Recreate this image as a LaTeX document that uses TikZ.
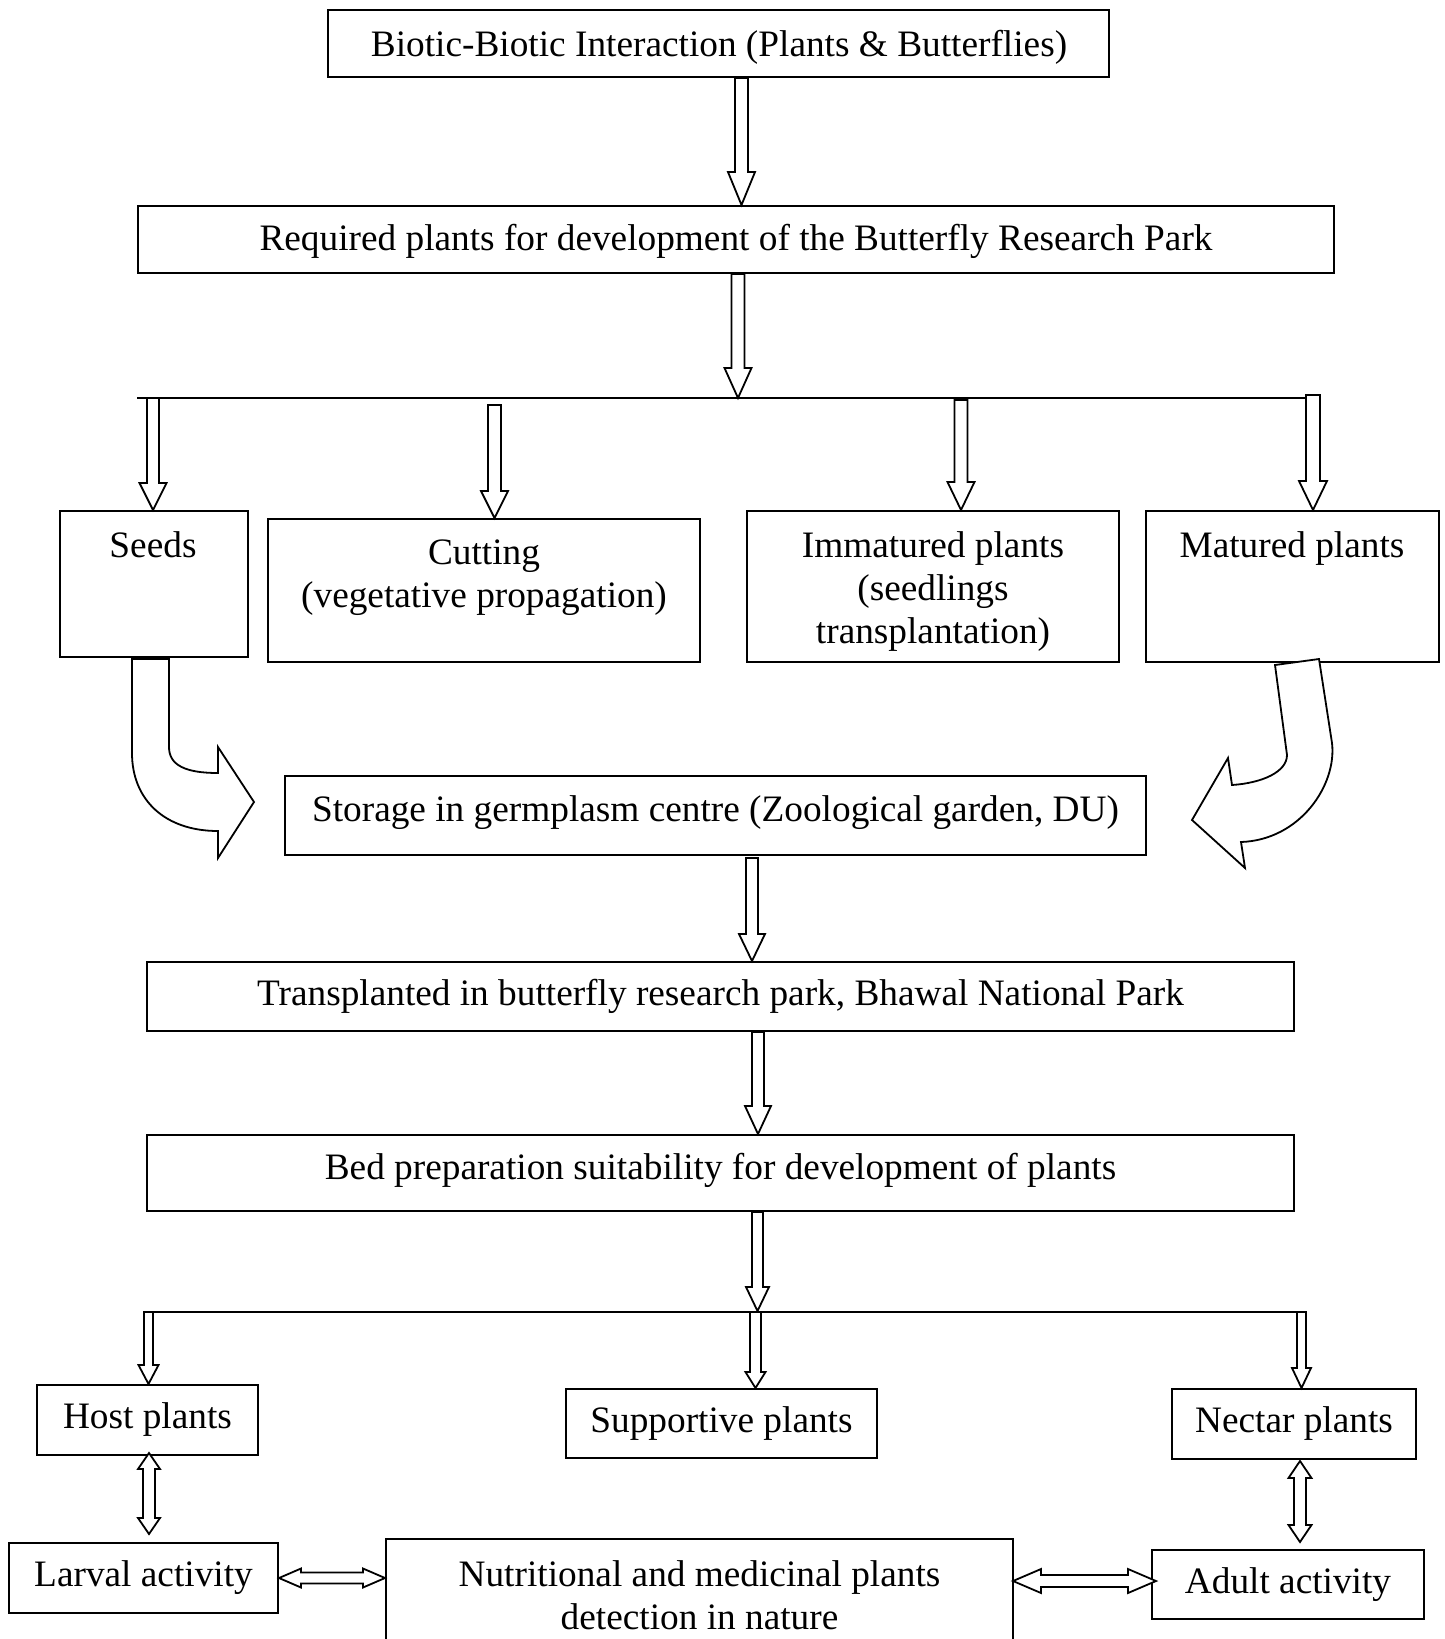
\documentclass[tikz,border=0pt]{standalone}
\usepackage{fontspec}
\setmainfont{Liberation Serif}
\usetikzlibrary{calc}
\newcommand\myfs{\fontsize{18.65pt}{21.7pt}\selectfont}
\tikzset{
 bx/.style 2 args={draw, line width=1pt, minimum width=#1*0.5pt, minimum height=#2*0.5pt, inner sep=0pt, align=center, font=\myfs},
 txt/.style={inner sep=0pt, align=center, font=\myfs},
 blk/.style={draw, line width=0.9pt, fill=white, line join=miter},
 ln/.style={line width=1pt},
 vblock/.style n args={3}{to path={let \p1=(\tikztostart), \p2=(\tikztotarget) in
   (\x1-#1*0.5pt,\y1) -- (\x1-#1*0.5pt,\y2+#3*0.5pt) -- (\x1-#2*0.5pt,\y2+#3*0.5pt) -- (\x1,\y2)
   -- (\x1+#2*0.5pt,\y2+#3*0.5pt) -- (\x1+#1*0.5pt,\y2+#3*0.5pt) -- (\x1+#1*0.5pt,\y1) -- cycle}},
 vdbl/.style n args={3}{to path={let \p1=(\tikztostart), \p2=(\tikztotarget) in
   (\x1,\y1) -- (\x1+#2*0.5pt,\y1-#3*0.5pt) -- (\x1+#1*0.5pt,\y1-#3*0.5pt) -- (\x1+#1*0.5pt,\y2+#3*0.5pt)
   -- (\x1+#2*0.5pt,\y2+#3*0.5pt) -- (\x1,\y2) -- (\x1-#2*0.5pt,\y2+#3*0.5pt) -- (\x1-#1*0.5pt,\y2+#3*0.5pt)
   -- (\x1-#1*0.5pt,\y1-#3*0.5pt) -- (\x1-#2*0.5pt,\y1-#3*0.5pt) -- cycle}},
 hdbl/.style n args={3}{to path={let \p1=(\tikztostart), \p2=(\tikztotarget) in
   (\x1,\y1) -- (\x1+#3*0.5pt,\y1+#2*0.5pt) -- (\x1+#3*0.5pt,\y1+#1*0.5pt) -- (\x2-#3*0.5pt,\y1+#1*0.5pt)
   -- (\x2-#3*0.5pt,\y1+#2*0.5pt) -- (\x2,\y1) -- (\x2-#3*0.5pt,\y1-#2*0.5pt) -- (\x2-#3*0.5pt,\y1-#1*0.5pt)
   -- (\x1+#3*0.5pt,\y1-#1*0.5pt) -- (\x1+#3*0.5pt,\y1-#2*0.5pt) -- cycle}},
}
\begin{document}
\begin{tikzpicture}[x=0.5pt,y=-0.5pt]
\clip (0,0) rectangle (1445,1639);
\fill[white] (0,0) rectangle (1445,1639);

% boxes
\node[bx={781}{67}] (b1) at (718.5,43.5) {};
\node[bx={1196}{67}] (b2) at (736,239.5) {};
\node[bx={188}{146}] (seeds) at (154,584) {};
\node[bx={432}{143}] (cutting) at (484,590.5) {};
\node[bx={372}{151}] (immat) at (933,586.5) {};
\node[bx={293}{151}] (matured) at (1292.5,586.5) {};
\node[bx={861}{79}] (storage) at (715.5,815.5) {};
\node[bx={1147}{69}] (trans) at (720.5,996.5) {Transplanted in butterfly research park, Bhawal National Park};
\node[bx={1147}{76}] (bed) at (720.5,1173) {};
\node[bx={221}{70}] (host) at (147.5,1420) {Host plants};
\node[bx={311}{69}] (supp) at (721.5,1423.5) {Supportive plants};
\node[bx={244}{70}] (nectar) at (1294,1424) {Nectar plants};
\node[bx={269}{70}] (larval) at (143.5,1578) {Larval activity};
\node[bx={627}{141}] (nutri) at (699.5,1609.5) {};
\node[bx={272}{69}] (adult) at (1288,1584.5) {Adult activity};

% texts placed inside boxes
\node[txt] (tb1) at (719,47.5) {Biotic-Biotic Interaction (Plants \& Butterflies)};
\node[txt] (tb2) at (736,241.5) {Required plants for development of the Butterfly Research Park};
\node[txt] (tseeds) at (153,545) {Seeds};
\node[txt] (tcut) at (484,577.5) {Cutting\\(vegetative propagation)};
\node[txt] (timmat) at (933,591.5) {Immatured plants\\(seedlings\\transplantation)};
\node[txt] (tmat) at (1292,549) {Matured plants};
\node[txt] (tstor) at (715.5,812.5) {Storage in germplasm centre (Zoological garden, DU)};
\node[txt] (tbed) at (720.5,1170) {Bed preparation suitability for development of plants};
\node[txt] (tnutri) at (699.5,1595.5) {Nutritional and medicinal plants\\detection in nature};

% branch lines
\coordinate (brL) at (137,398);
\coordinate (brR) at (1313,398);
\coordinate (brC) at (738,398);
\coordinate (brS) at (153,398);
\coordinate (brCu) at (494.5,405);
\coordinate (brI) at (961,400);
\coordinate (brM) at (1313,395);
\draw[ln] (brL) -- (brR);

\coordinate (lnL) at (144,1312);
\coordinate (lnR) at (1306,1312);
\coordinate (lnC) at (757.5,1311);
\coordinate (lnH) at (148.5,1312);
\coordinate (lnS) at (755.5,1312);
\coordinate (lnN) at (1301.5,1312);
\draw[ln] (lnL) -- (lnR);

% straight block arrows
\draw[blk] ($(b1.south)+(23,0)$) to[vblock={6.5}{13.5}{33}] (b2.north);
\draw[blk] ($(b2.south)+(2,0)$) to[vblock={6.5}{13.5}{30}] (brC);
\draw[blk] (brS) to[vblock={6}{13.5}{27}] (seeds.north);
\draw[blk] (brCu) to[vblock={6.5}{13.5}{27}] (cutting.north);
\draw[blk] (brI) to[vblock={6.5}{13.5}{28}] (immat.north);
\draw[blk] (brM) to[vblock={7}{14}{29}] (matured.north);
\draw[blk] ($(storage.south)+(36.5,2)$) to[vblock={6}{13}{27}] (trans.north);
\draw[blk] ($(trans.south)+(37.5,0)$) to[vblock={6}{13}{28}] (bed.north);
\draw[blk] ($(bed.south)+(37,0)$) to[vblock={5.5}{11.5}{24}] (lnC);
\draw[blk] (lnH) to[vblock={4.5}{10}{19}] (host.north);
\draw[blk] (lnS) to[vblock={5.5}{10}{16}] (supp.north);
\draw[blk] (lnN) to[vblock={4.5}{9.5}{20}] (nectar.north);

% double block arrows
\draw[blk] ($(host.south)+(1.5,-3)$) to[vdbl={6}{11}{16}] ($(larval.north)+(0,-8)$);
\draw[blk] ($(nectar.south)+(6,1)$) to[vdbl={6}{11.5}{17}] ($(adult.north)+(0,-7)$);
\draw[blk] (larval.east) to[hdbl={5.5}{9.5}{22}] (nutri.west);
\draw[blk] ($(nutri.east |- adult.west)+(-1,-3.5)$) to[hdbl={6}{12}{28}] ($(adult.west)+(5,0)$);

% curved block arrows
\draw[blk] (132,659) -- (169,659) -- (169,747) .. controls (169,765) and (185,773) .. (218,773)
  -- (218,747) -- (254,802) -- (218,858) -- (218,831)
  .. controls (165,831) and (132,800) .. (132,753) -- cycle;
\draw[blk] (1275,665) -- (1319,659) -- (1332,743) .. controls (1337,785) and (1300,840) .. (1241,842)
  -- (1245,868) -- (1192,820) -- (1228,758) -- (1232,785)
  .. controls (1262,783) and (1287,772) .. (1287,755) -- cycle;
\end{tikzpicture}
\end{document}
